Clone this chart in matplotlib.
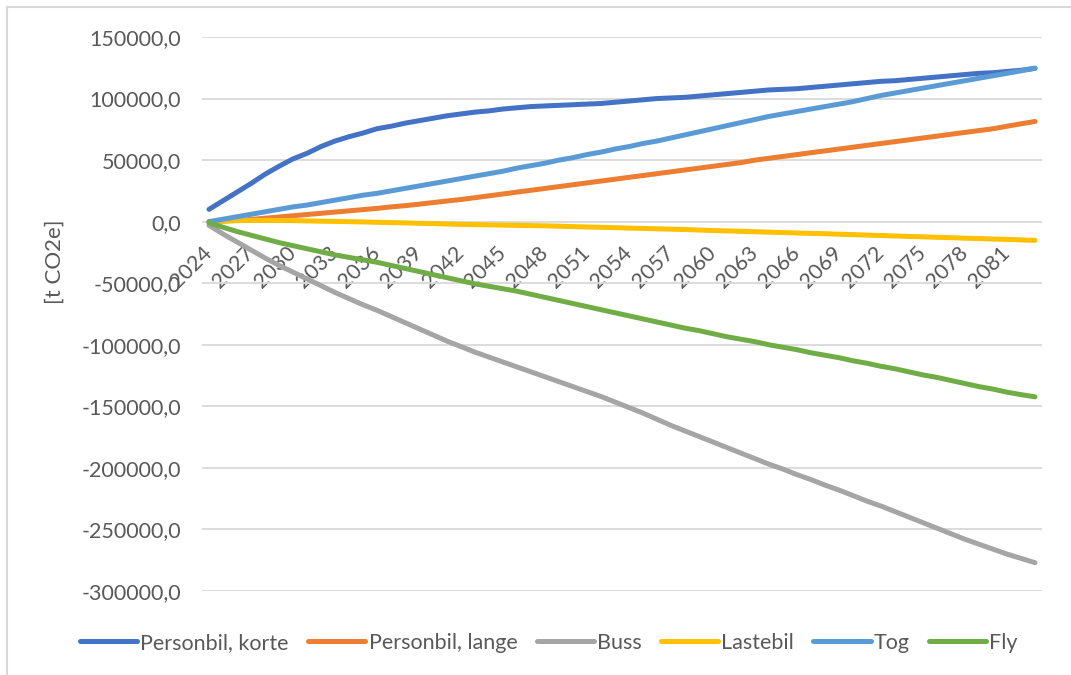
import matplotlib.pyplot as plt
from matplotlib.lines import Line2D
from matplotlib.ticker import FuncFormatter, FixedLocator
import numpy as np

plt.rcParams['font.family'] = ['Lato', 'DejaVu Sans']

# years 2024..2083
years = list(range(2024, 2084))

personbil_korte = [
    10000, 17000, 24000, 31000, 38500, 45000, 51000, 55500, 61000, 65500,
    69000, 72000, 75500, 77500, 80000, 82000, 84000, 86000, 87500, 89000,
    90000, 91500, 92500, 93500, 94000, 94500, 95000, 95500, 96000, 97000,
    98000, 99000, 100000, 100500, 101000, 102000, 103000, 104000, 105000, 106000,
    107000, 107500, 108000, 109000, 110000, 111000, 112000, 113000, 114000, 114500,
    115500, 116500, 117500, 118500, 119500, 120500, 121000, 122000, 123000, 124500,
]

personbil_lange = [
    0, 500, 1000, 1800, 2800, 3800, 4800, 5800, 6800, 7800,
    8800, 9800, 10800, 12000, 13000, 14200, 15500, 16800, 18000, 19500,
    21000, 22500, 24000, 25500, 27000, 28500, 30000, 31500, 33000, 34500,
    36000, 37500, 39000, 40500, 42000, 43500, 45000, 46500, 48000, 50000,
    51500, 53000, 54500, 56000, 57500, 59000, 60500, 62000, 63500, 65000,
    66500, 68000, 69500, 71000, 72500, 74000, 75500, 77500, 79500, 81400,
]

buss = [
    -3000, -10000, -16500, -23000, -29500, -35500, -41000, -46500, -52000, -57500,
    -62500, -67500, -72000, -77000, -82000, -87000, -92000, -97000, -101500, -106000,
    -110000, -114000, -118000, -122000, -126000, -130000, -134000, -138000, -142000, -146500,
    -151000, -155500, -160500, -165500, -170000, -174500, -179000, -183500, -188000, -192500,
    -197000, -201000, -205500, -209500, -214000, -218000, -222500, -227000, -231000, -235500,
    -240000, -244500, -249000, -253500, -258000, -262000, -266000, -270000, -273500, -277000,
]

lastebil = [
    0, 500, 800, 1000, 1000, 1000, 800, 600, 400, 200,
    0, -200, -500, -800, -1000, -1300, -1600, -1900, -2200, -2400,
    -2600, -2800, -3000, -3200, -3400, -3700, -4000, -4300, -4600, -4900,
    -5200, -5500, -5800, -6100, -6400, -6800, -7200, -7500, -7800, -8200,
    -8500, -8800, -9200, -9500, -9800, -10200, -10500, -10900, -11300, -11600,
    -12000, -12300, -12700, -13000, -13400, -13700, -14100, -14400, -14800, -15200,
]

tog = [
    0, 2000, 4000, 6000, 8000, 10000, 12000, 13500, 15500, 17500,
    19500, 21500, 23000, 25000, 27000, 29000, 31000, 33000, 35000, 37000,
    39000, 41000, 43500, 45500, 47500, 50000, 52000, 54500, 56500, 59000,
    61000, 63500, 65500, 68000, 70500, 73000, 75500, 78000, 80500, 83000,
    85500, 87500, 89500, 91500, 93500, 95500, 97500, 100000, 102500, 104500,
    106500, 108500, 110500, 112500, 114500, 116500, 118500, 120500, 122500, 124700,
]

fly = [
    -1000, -4500, -8000, -11000, -14000, -17000, -19500, -22000, -24500, -27000,
    -29000, -31000, -33000, -35500, -38000, -40500, -43000, -45500, -48000, -50500,
    -52500, -54500, -56500, -59000, -61500, -64000, -66500, -69000, -71500, -74000,
    -76500, -79000, -81500, -84000, -86500, -88500, -91000, -93500, -95500, -97500,
    -100000, -102000, -104000, -106500, -108500, -110500, -113000, -115000, -117500, -119500,
    -122000, -124500, -126500, -129000, -131500, -134000, -136000, -138500, -140500, -142300,
]

series = [
    ('Personbil, korte', personbil_korte, '#4472C4'),
    ('Personbil, lange', personbil_lange, '#ED7D31'),
    ('Buss', buss, '#A5A5A5'),
    ('Lastebil', lastebil, '#FFC000'),
    ('Tog', tog, '#5B9BD5'),
    ('Fly', fly, '#70AD47'),
]

fig = plt.figure(figsize=(10.71, 6.75), dpi=100)
ax = fig.add_axes([202 / 1071, 1 - 591 / 675, 840 / 1071, 554 / 675])

x = np.arange(len(years))
for name, vals, col in series:
    ax.plot(x, vals, color=col, lw=3.6, label=name,
            solid_capstyle='round', solid_joinstyle='round', zorder=3)

ax.set_xlim(-0.5, len(years) - 0.5)
ax.set_ylim(-300000, 150000)
ax.set_yticks(np.arange(-300000, 150001, 50000))
ax.yaxis.set_major_formatter(FuncFormatter(lambda v, p: f'{v:.1f}'.replace('.', ',')))
ax.grid(axis='y', color='#D9D9D9', lw=1.3, zorder=0)

# category labels every third year, axis crosses at 0
tick_idx = list(range(0, len(years), 3))
ax.xaxis.set_major_locator(FixedLocator(tick_idx))
ax.set_xticklabels([str(years[i]) for i in tick_idx])
ax.spines['bottom'].set_position(('data', 0))
for s in ['top', 'right', 'left', 'bottom']:
    ax.spines[s].set_visible(False)
ax.tick_params(axis='x', length=0, pad=20, labelsize=15.5, colors='#595959')
ax.tick_params(axis='y', length=0, pad=15, labelsize=15.5, colors='#595959')
for lab in ax.get_xticklabels():
    lab.set_rotation(45)
    lab.set_ha('right')
    lab.set_va('center')
    lab.set_rotation_mode('anchor')

ax.set_ylabel('[t CO2e]', fontsize=16, color='#595959', labelpad=10)
ax.yaxis.set_label_coords(-0.163, 0.595)

fig.legend(loc='center', bbox_to_anchor=(549 / 1071, 1 - 643 / 675), ncol=6,
           frameon=False, fontsize=15.5, handlelength=2.65, handletextpad=0.15,
           columnspacing=0.9, labelcolor='#595959')

# chart area border (left and top)
fig.add_artist(Line2D([7 / 1071, 7 / 1071], [0, 1 - 7 / 675], color='#D9D9D9', lw=1.5))
fig.add_artist(Line2D([7 / 1071, 1], [1 - 7 / 675, 1 - 7 / 675], color='#D9D9D9', lw=1.5))

fig.savefig('out.png', dpi=100)
